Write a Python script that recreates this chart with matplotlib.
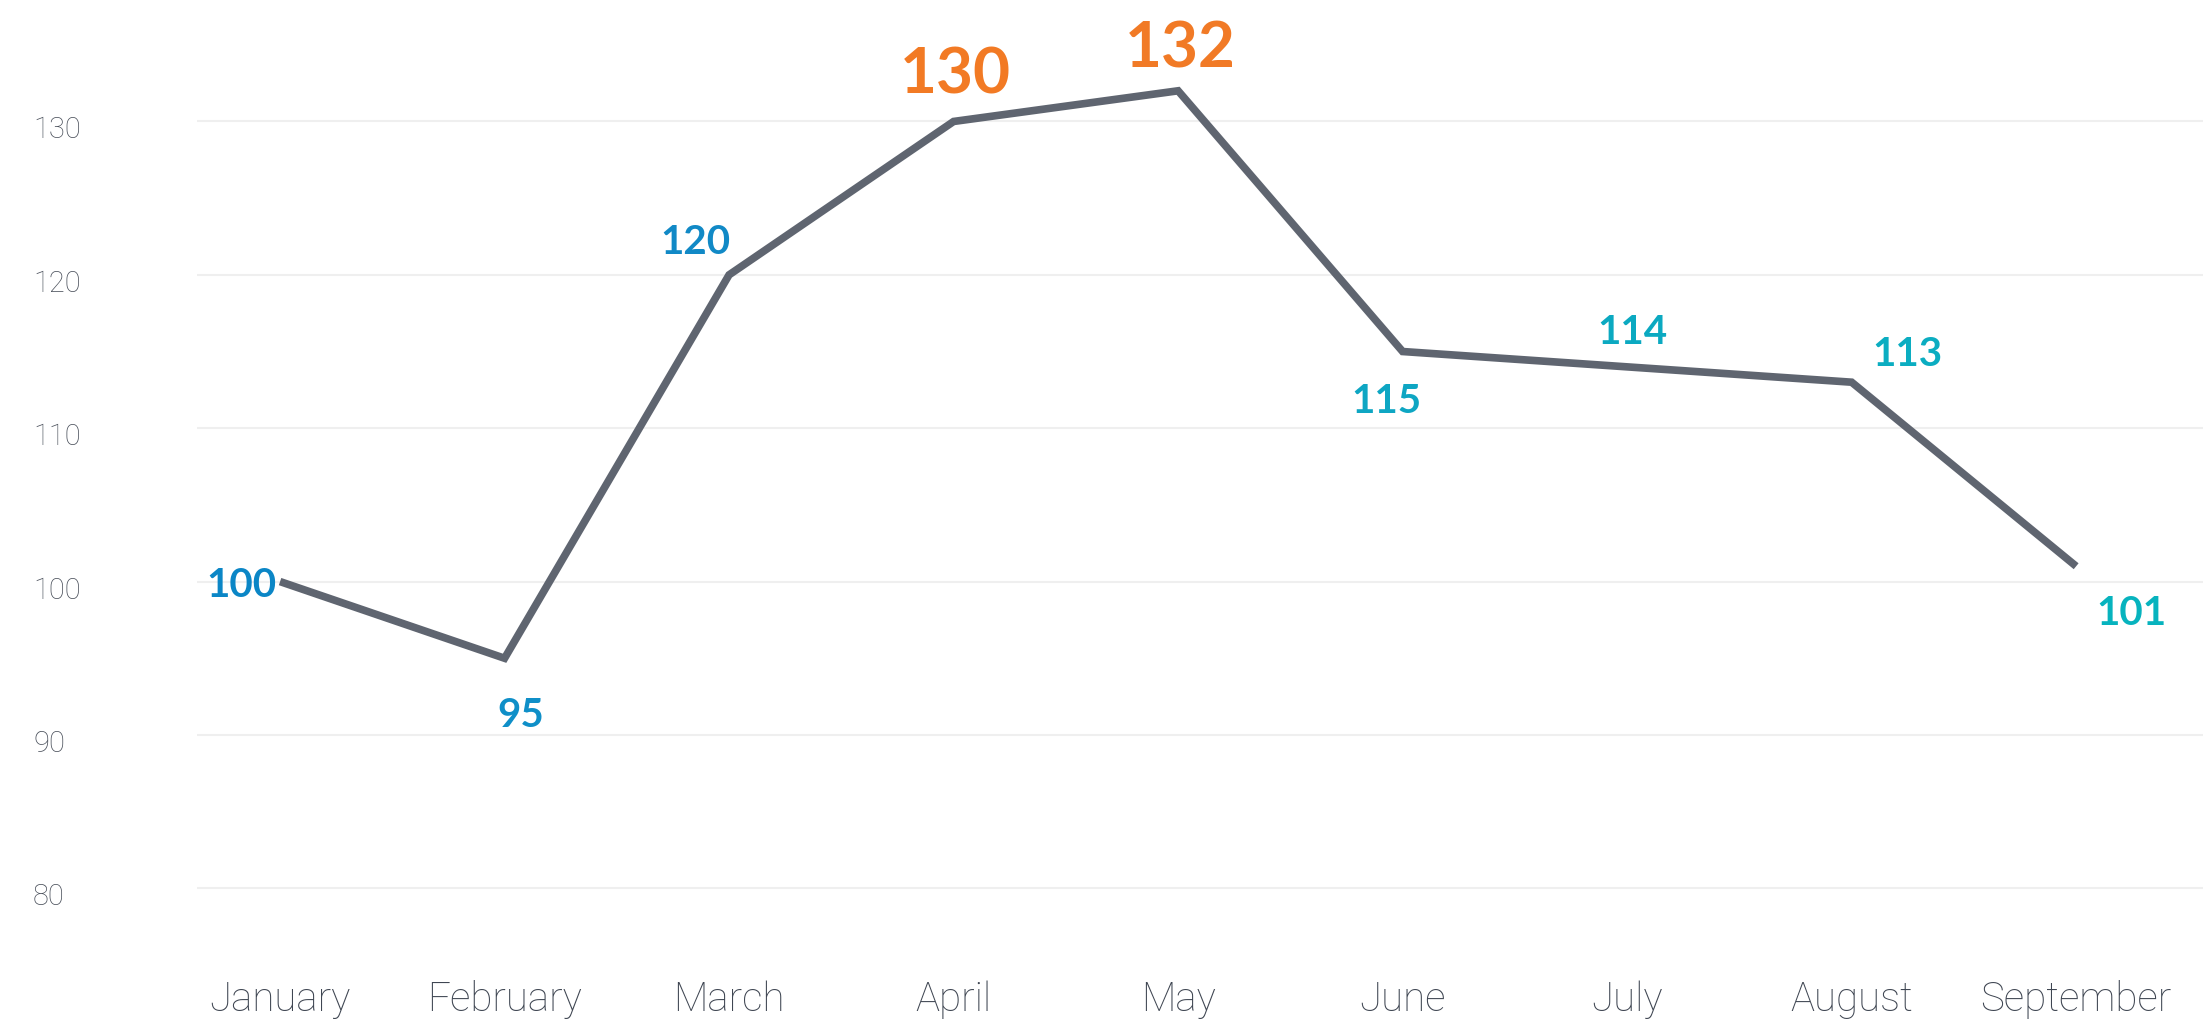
import matplotlib
matplotlib.use("Agg")
import matplotlib.pyplot as plt
import matplotlib.transforms as mtransforms

months = ["January", "February", "March", "April", "May", "June", "July", "August", "September"]
values = [100, 95, 120, 130, 132, 115, 114, 113, 101]
y_ticks = [80, 90, 100, 110, 120, 130]
label_colors = ["#0b86c6", "#0f8fc8", "#1189c6", "#f27a24", "#f17a26",
                "#0ea6c3", "#0ba9c1", "#0badc1", "#07b3be"]
highlight = [False, False, False, True, True, False, False, False, False]
# label offsets in points (dx, dy) relative to the data point
offsets = [(-28, -10.8), (11.5, -49.7), (-24, 15.1), (1.5, 20.2), (1.5, 16.6),
           (-12, -44.6), (3.6, 16.6), (40, 11.5), (40, -42.5)]

W, H = 2203, 1021
fig = plt.figure(figsize=(W / 100, H / 100), dpi=100)
left = 197 / W
bottom = 1 - 965 / H
ax = fig.add_axes([left, bottom, 1 - left, 1 - bottom])

x = list(range(len(months)))
ax.plot(x, values, color="#5f6570", lw=5.5, solid_capstyle="butt",
        solid_joinstyle="miter", zorder=3)

for xi, v, c, hl, (dx, dy) in zip(x, values, label_colors, highlight, offsets):
    ax.annotate(str(v), (xi, v), xytext=(dx, dy), textcoords="offset points",
                ha="center", va="baseline", color=c,
                fontsize=46 if hl else 29, fontweight="bold",
                family=["Lato", "DejaVu Sans"], zorder=4)

ax.set_xlim(-0.37, 8.565)
ax.set_ylim(75, 137.92)
ax.set_yticks(y_ticks)
ax.set_yticklabels([str(t) for t in y_ticks])
ax.set_xticks(x)
ax.set_xticklabels(months)
ax.grid(axis="y", color="#efefef", lw=1.5, zorder=0)
ax.grid(axis="x", visible=False)
for s in ax.spines.values():
    s.set_visible(False)
ax.tick_params(axis="both", length=0)
ax.tick_params(axis="y", pad=118, labelsize=21, labelcolor="#4a505b")
ax.tick_params(axis="x", pad=11, labelsize=29, labelcolor="#3f4652")
shift = mtransforms.ScaledTranslation(0, -6 / 100, fig.dpi_scale_trans)
for lab in ax.get_yticklabels():
    lab.set_horizontalalignment("left")
    lab.set_family(["Roboto", "DejaVu Sans"])
    lab.set_fontweight("light")
    lab.set_transform(lab.get_transform() + shift)
for lab in ax.get_xticklabels():
    lab.set_family(["Roboto", "DejaVu Sans"])
    lab.set_fontweight("light")

fig.savefig("out.png", dpi=100, facecolor="white")
